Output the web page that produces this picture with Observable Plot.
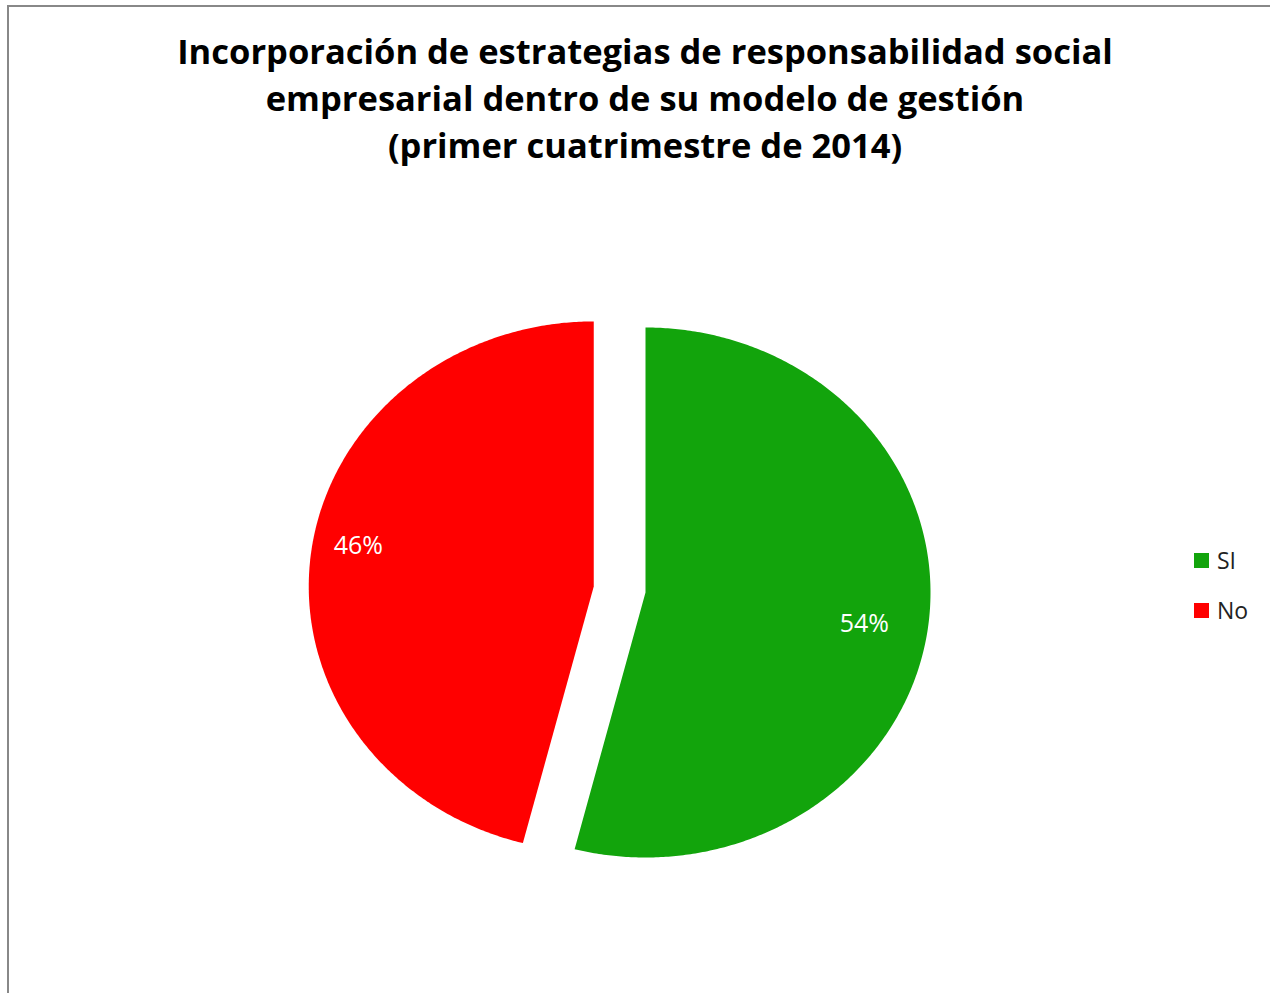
<!DOCTYPE html>
<html><head><meta charset="utf-8">
<script src="https://cdn.jsdelivr.net/npm/d3@7"></script>
<script src="https://cdn.jsdelivr.net/npm/@observablehq/plot@0.6"></script>
<style>
body{margin:0;background:#fff;}
#wrap{position:relative;width:1270px;height:993px;overflow:hidden;background:#fff;}
#bt{position:absolute;left:7px;top:5px;right:0;height:2px;background:#888;}
#bl{position:absolute;left:7px;top:5px;bottom:0;width:2px;background:#888;}
#title{position:absolute;left:20px;width:1250px;top:27px;text-align:center;font-family:"Open Sans";font-weight:bold;font-size:34.5px;line-height:47px;color:#000;white-space:nowrap;}
#chart{position:absolute;left:0;top:190px;}
#legend{position:absolute;left:1194px;top:545px;font-family:"Open Sans";font-size:23px;color:#222;}
.li{display:flex;align-items:center;height:30px;margin-bottom:20px;}
.sw{width:15px;height:15px;margin-right:8px;}
</style></head>
<body>
<div id="wrap">
<div id="bt"></div><div id="bl"></div>
<div id="title"></div>
<div id="chart"></div>
<div id="legend"></div>
</div>
<script>
const titleLines = ["Incorporación de estrategias de responsabilidad social","empresarial dentro de su modelo de gestión","(primer cuatrimestre de 2014)"];
const categories = ["SI","No"];
const values = [54,46];
const colors = ["#12A40C","#FF0000"];
const explode = [0,0.183];
const labelRadius = [0.777,0.84];
const labelShiftDeg = [1.5,3.3];

document.getElementById("title").innerHTML = titleLines.join("<br>");

const total = d3.sum(values);
const pts = [];
const labels = [];
let acc = 0;
categories.forEach((c,i)=>{
  const a0 = acc/total*2*Math.PI;
  acc += values[i];
  const a1 = acc/total*2*Math.PI;
  const mid = (a0+a1)/2;
  const ox = explode[i]*Math.sin(mid), oy = explode[i]*Math.cos(mid);
  pts.push({cat:c,x:ox,y:oy});
  const n = Math.max(2, Math.ceil((a1-a0)/(Math.PI/360)));
  for(let k=0;k<=n;k++){
    const a = a0+(a1-a0)*k/n;
    pts.push({cat:c,x:ox+Math.sin(a),y:oy+Math.cos(a)});
  }
  const la = mid + labelShiftDeg[i]*Math.PI/180;
  labels.push({cat:c,x:ox+labelRadius[i]*Math.sin(la),y:oy+labelRadius[i]*Math.cos(la),text:Math.round(values[i]/total*100)+"%"});
});

const plot = Plot.plot({
  width:1270,height:803,margin:0,
  x:{domain:[-1,1],range:[360,930],axis:null},
  y:{domain:[-1,1],range:[667,137],axis:null},
  color:{domain:categories,range:colors},
  marks:[
    Plot.line(pts,{x:"x",y:"y",z:"cat",fill:"cat",stroke:"none",curve:"linear-closed"}),
    Plot.text(labels,{x:"x",y:"y",text:"text",fill:"white",fontSize:25,fontFamily:"Open Sans"})
  ]
});
document.getElementById("chart").appendChild(plot);

const lg = document.getElementById("legend");
categories.forEach((c,i)=>{
  const d = document.createElement("div"); d.className="li";
  d.innerHTML = `<span class="sw" style="background:${colors[i]}"></span><span>${c}</span>`;
  lg.appendChild(d);
});
</script>
</body></html>
